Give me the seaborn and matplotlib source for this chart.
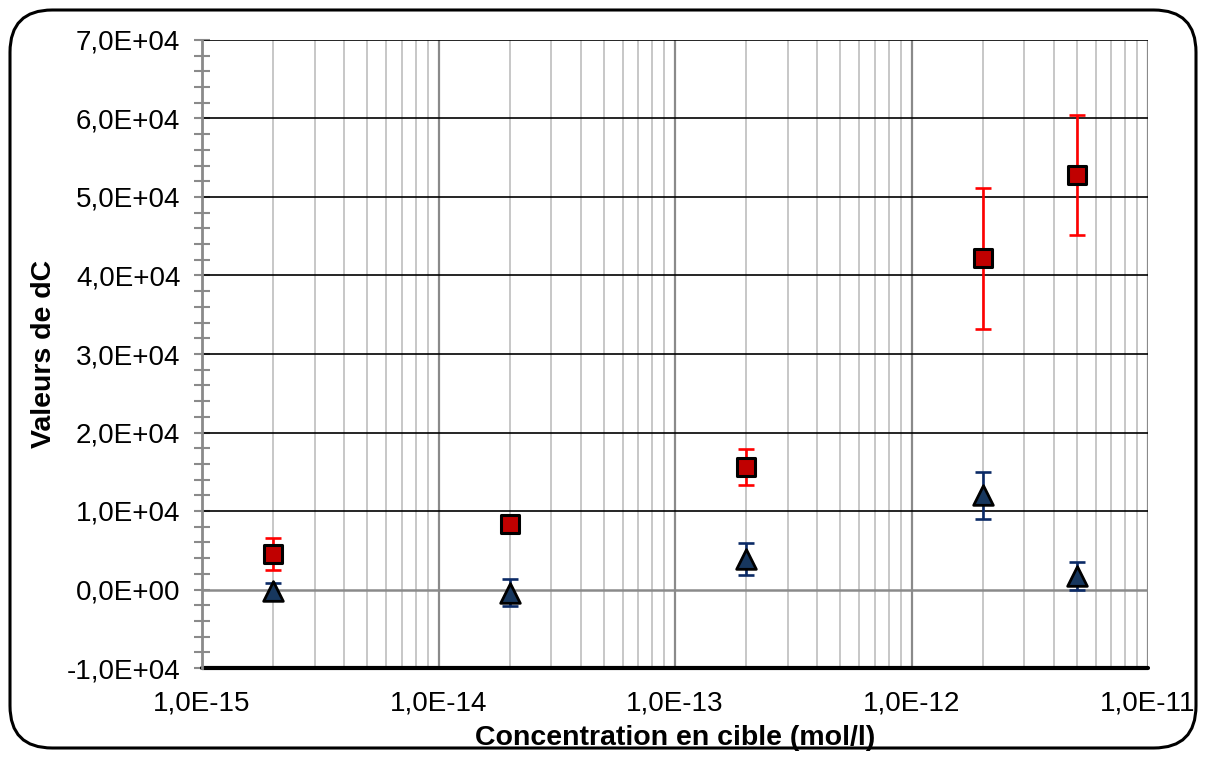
import numpy as np
import pandas as pd
import matplotlib
matplotlib.use("Agg")
import matplotlib.pyplot as plt
import seaborn as sns
from matplotlib.patches import FancyBboxPatch
from matplotlib.ticker import FuncFormatter, MultipleLocator, LogLocator, NullFormatter

# ---- data ----
concentrations = [2e-15, 2e-14, 2e-13, 2e-12, 5e-12]
red_values = [4500, 8300, 15600, 42200, 52800]
red_errors = [2000, 0, 2300, 9000, 7600]
blue_values = [-200, -400, 3900, 12000, 1700]
blue_errors = [1000, 1700, 2000, 3000, 1750]
x_ticks = [1e-15, 1e-14, 1e-13, 1e-12, 1e-11]
y_ticks = [-10000, 0, 10000, 20000, 30000, 40000, 50000, 60000, 70000]

df = pd.DataFrame({
    "conc": concentrations * 2,
    "value": red_values + blue_values,
    "err": red_errors + blue_errors,
    "series": ["rouge"] * 5 + ["bleu"] * 5,
})

sns.set_theme(style="white")
plt.rcParams["font.family"] = ["Liberation Sans", "DejaVu Sans"]
plt.rcParams["text.color"] = "black"
plt.rcParams["axes.labelcolor"] = "black"
plt.rcParams["xtick.color"] = "black"
plt.rcParams["ytick.color"] = "black"

fig = plt.figure(figsize=(12.06, 7.58), dpi=100)
ax = fig.add_axes([202 / 1206, 90 / 758, 946 / 1206, 628 / 758])

# rounded frame around the figure
frame = FancyBboxPatch((10 / 1206, 10 / 758), 1186 / 1206, 738 / 758,
                       boxstyle="round,pad=0,rounding_size=0.035",
                       transform=fig.transFigure, fill=False,
                       edgecolor="black", linewidth=2.2, mutation_aspect=1206 / 758)
fig.patches.append(frame)

ax.set_xscale("log")
ax.set_xlim(1e-15, 1e-11)
ax.set_ylim(-10000, 70000)

# grid
ax.xaxis.set_major_locator(LogLocator(base=10))
ax.xaxis.set_minor_locator(LogLocator(base=10, subs=np.arange(2, 10)))
ax.xaxis.set_minor_formatter(NullFormatter())
ax.yaxis.set_major_locator(MultipleLocator(10000))
ax.yaxis.set_minor_locator(MultipleLocator(2000))
ax.grid(False)
for xv in x_ticks:
    ax.axvline(xv, color="#8a8a8a", lw=1.6, zorder=1)
ax.grid(True, which="minor", axis="x", color="#b8b8b8", lw=1.1, zorder=0)
for yv in y_ticks:
    if yv == 0:
        ax.axhline(yv, color="#8a8a8a", lw=1.8, zorder=1)
    elif yv == -10000:
        ax.axhline(yv, color="black", lw=3, zorder=2, clip_on=False)
    else:
        ax.axhline(yv, color="black", lw=1.2, zorder=1)

for s in ["top", "right", "bottom"]:
    ax.spines[s].set_visible(False)
ax.spines["left"].set_color("#8a8a8a")
ax.spines["left"].set_linewidth(2)

# error bars
ax.errorbar(concentrations, red_values, yerr=red_errors, fmt="none",
            ecolor="#ff0000", elinewidth=1.9, capsize=5.5, capthick=1.9, zorder=3)
ax.errorbar(concentrations, blue_values, yerr=blue_errors, fmt="none",
            ecolor="#0b2a66", elinewidth=1.9, capsize=5.5, capthick=1.9, zorder=3)

# markers
sns.scatterplot(data=df[df.series == "rouge"], x="conc", y="value", marker="s",
                s=160, color="#c00000", edgecolor="black", linewidth=2.2,
                legend=False, zorder=5, ax=ax)
sns.scatterplot(data=df[df.series == "bleu"], x="conc", y="value", marker="^",
                s=200, color="#17375e", edgecolor="black", linewidth=2.0,
                legend=False, zorder=5, ax=ax)

fmt = FuncFormatter(lambda v, p: f"{v:.1E}".replace(".", ","))
ax.xaxis.set_major_formatter(fmt)
ax.yaxis.set_major_formatter(fmt)
ax.set_xticks(x_ticks)
ax.set_yticks(y_ticks)

ax.tick_params(axis="y", which="both", direction="inout", length=11, width=1.5,
               color="#8a8a8a", left=True, labelsize=20, pad=10, labelcolor="black")
ax.tick_params(axis="x", which="both", bottom=False, labelsize=20, pad=10,
               labelcolor="black")

ax.set_xlabel("Concentration en cible (mol/l)", fontsize=20.5, fontweight="bold",
              labelpad=6, color="black")
ax.set_ylabel("Valeurs de dC", fontsize=20.5, fontweight="bold", labelpad=7,
              color="black")

fig.savefig("out.png", dpi=100)
